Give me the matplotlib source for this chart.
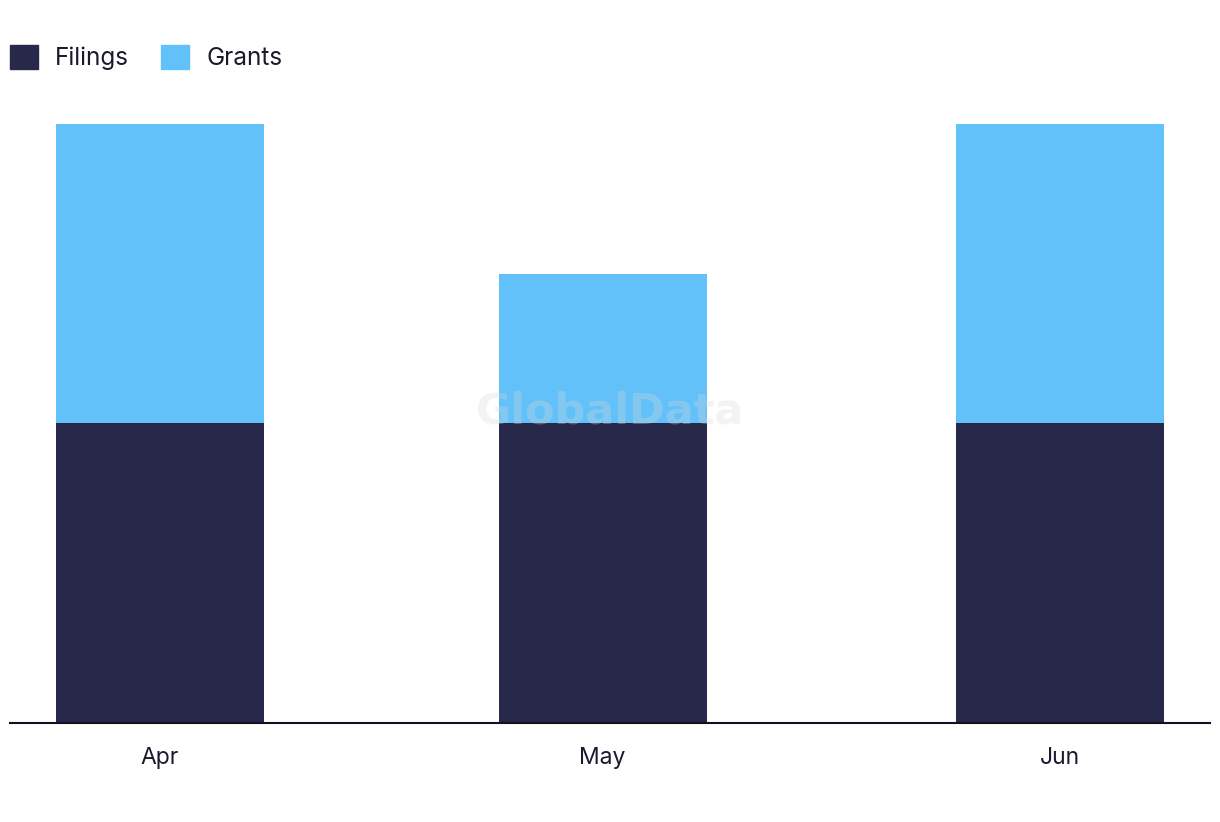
import matplotlib
matplotlib.use("Agg")
import matplotlib.pyplot as plt
import matplotlib.dates as mdates
from matplotlib.patches import Patch
import datetime as dt

months = ["Apr", "May", "Jun"]
dates = [dt.datetime(2024, 4, 1), dt.datetime(2024, 5, 1), dt.datetime(2024, 6, 1)]
filings = [2, 2, 2]
grants = [2, 1, 2]

c_fil = "#28284a"
c_gra = "#62c1f9"
plt.rcParams['font.family'] = ['Inter', 'DejaVu Sans']

fig = plt.figure(figsize=(12.2, 8.22), dpi=100)
ax = fig.add_axes([10/1220, 1 - 723/822, 1200/1220, (723 - 124)/822])

xn = mdates.date2num(dates)
width = 14.1
ax.bar(xn, filings, width=width, color=c_fil, zorder=2)
ax.bar(xn, grants, width=width, bottom=filings, color=c_gra, zorder=2)

ax.set_xlim(xn[0] - 10.17, xn[-1] + 10.17)
ax.set_ylim(0, max(f + g for f, g in zip(filings, grants)))
ax.set_xticks(xn)
ax.set_xticklabels(months, fontsize=16.5, color="#1a1a2e")
ax.tick_params(axis='x', length=0, pad=17)
ax.set_yticks([])
for s in ["top", "right", "left"]:
    ax.spines[s].set_visible(False)
ax.spines["bottom"].set_color("#111122")
ax.spines["bottom"].set_linewidth(1.5)
ax.spines["bottom"].set_zorder(3)

ax.text(0.5, 0.52, "GlobalData", transform=ax.transAxes, ha="center", va="center",
        fontsize=31, fontweight="bold", color="#d9d9d9", alpha=0.3, zorder=5,
        family="DejaVu Sans")

fs = 17.5
px = fs * 100 / 72
handles = [Patch(color=c_fil, label="Filings"), Patch(color=c_gra, label="Grants")]
fig.legend(handles=handles, loc="upper left", bbox_to_anchor=(10/1220, 1 - 45/822),
           ncol=2, frameon=False, fontsize=fs, handlelength=28/px, handleheight=28/px,
           handletextpad=17/px, columnspacing=32/px, borderpad=0, borderaxespad=0,
           labelcolor="#1a1a2e")

fig.savefig("out.png", dpi=100)
